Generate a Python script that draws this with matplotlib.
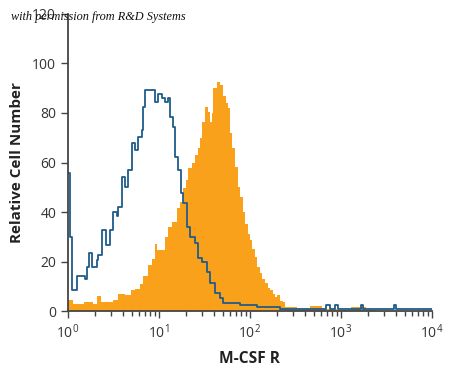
import matplotlib
matplotlib.use("Agg")
import matplotlib.pyplot as plt
from matplotlib.ticker import LogLocator, NullFormatter

plt.rcParams["font.family"] = "Open Sans"

# isotype control (blue outline)
iso_x = [1.00, 1.05, 1.11, 1.25, 1.54, 1.60, 1.70, 1.82, 2.07, 2.15, 2.35, 2.62, 2.89, 3.15, 3.43,
         3.57, 3.89, 4.23, 4.60, 5.01, 5.45, 5.92, 6.45, 6.72, 7.0, 9.04, 9.83, 10.7, 11.6, 12.7,
         13.2, 14.4, 15.0, 16.3, 17.3, 18.5, 20.2, 21.9, 24.9, 27.0, 29.5, 33.4, 36.3, 41.2, 46.8,
         51, 78, 118, 213, 690, 750, 870, 930, 1650, 1750, 3800, 4000, 10000]
iso_y = [55.8, 30, 8.5, 14, 13, 18, 23.5, 18, 20.6, 22.6, 32.7, 26.7, 32.7, 40, 38.5,
         42, 54, 50, 57, 68, 65, 70.4, 73, 82.5, 89.3, 84.6, 87.5, 86, 84.6, 86,
         78.5, 74.5, 62.3, 57, 47.7, 43.6, 34, 30, 27.5, 21.4, 20, 15.9, 11.3, 7.3, 5.3,
         3.2, 2.4, 1.5, 0.9, 2.5, 0.9, 2.5, 0.9, 2.5, 0.9, 2.5, 0.9, 0.9]

# M-CSF R stained (orange fill)
msf_x = [1.00, 1.14, 1.5, 1.9, 2.07, 2.3, 3.0, 3.15, 3.57, 4.2, 4.9, 5.5, 6.2, 6.72, 7.63,
         8.4, 9.0, 9.5, 10.7, 11.6, 12.65, 13.8, 15.6, 17.0, 18.5, 19.7, 20.9, 22.9, 24.9, 27.0,
         28.2, 29.4, 31.9, 34.7, 36.3, 38, 39.4, 42.9, 46.8, 50.9, 54, 57.6, 60.3, 64, 68.4,
         74.3, 77.6, 83, 88, 94, 100, 106, 113, 120, 128.5, 137, 146, 156, 166, 177,
         188, 200, 215, 231, 245, 260, 330, 460, 620, 900, 1300, 1900, 2400, 10000]
msf_y = [4.4, 2.8, 3.5, 3.0, 6.0, 3.5, 3.5, 4.5, 7, 6.5, 8.5, 9, 11, 14, 18.6,
         21, 27, 24.6, 24.6, 30, 34, 36, 41.6, 44, 49.6, 53, 57.7, 60, 63, 65.7,
         70, 76.5, 82.5, 80.5, 76.5, 80, 90, 92.6, 91.3, 87, 84, 82, 72, 66, 58,
         50, 46, 40, 35, 31, 28.7, 25, 22, 18, 15.3, 13, 11.3, 9.5, 8.5, 7,
         5.8, 6.5, 4, 3.5, 1.5, 1.5, 1, 2, 1, 0.5, 1.5, 0.5, 0, 0]

y_ticks = [0, 20, 40, 60, 80, 100, 120]

fig = plt.figure(figsize=(4.5, 3.74), dpi=100)
ax = fig.add_axes([0.151, 0.168, 0.809, 0.795])

ax.fill_between(msf_x, msf_y, step="post", color="#f9a11b", linewidth=0)
ax.step(iso_x, iso_y, where="post", color="#1f5c8a", linewidth=1.3)

ax.set_xscale("log")
ax.set_xlim(1, 10000)
ax.set_ylim(0, 120)
ax.set_yticks(y_ticks)
ax.xaxis.set_major_locator(LogLocator(base=10, numticks=10))
ax.xaxis.set_minor_locator(LogLocator(base=10, subs=range(2, 10), numticks=10))
ax.xaxis.set_minor_formatter(NullFormatter())

for s in ["top", "right"]:
    ax.spines[s].set_visible(False)
for s in ["left", "bottom"]:
    ax.spines[s].set_color("#444444")
    ax.spines[s].set_linewidth(1.3)

ax.tick_params(axis="both", which="major", colors="#444444", labelcolor="#333333",
               labelsize=10, length=5, width=1)
ax.tick_params(axis="x", which="minor", colors="#444444", length=3.5, width=1)

ax.set_xlabel("M-CSF R", fontsize=11.2, fontweight="bold", color="#222222", labelpad=7)
ax.set_ylabel("Relative Cell Number", fontsize=11, fontweight="bold", color="#222222", labelpad=6)

fig.text(0.218, 0.955, "with permission from R&D Systems", fontsize=8.8, style="italic",
         family="Liberation Serif", color="#111111", ha="center", va="center")

fig.savefig("out.png", dpi=100)
